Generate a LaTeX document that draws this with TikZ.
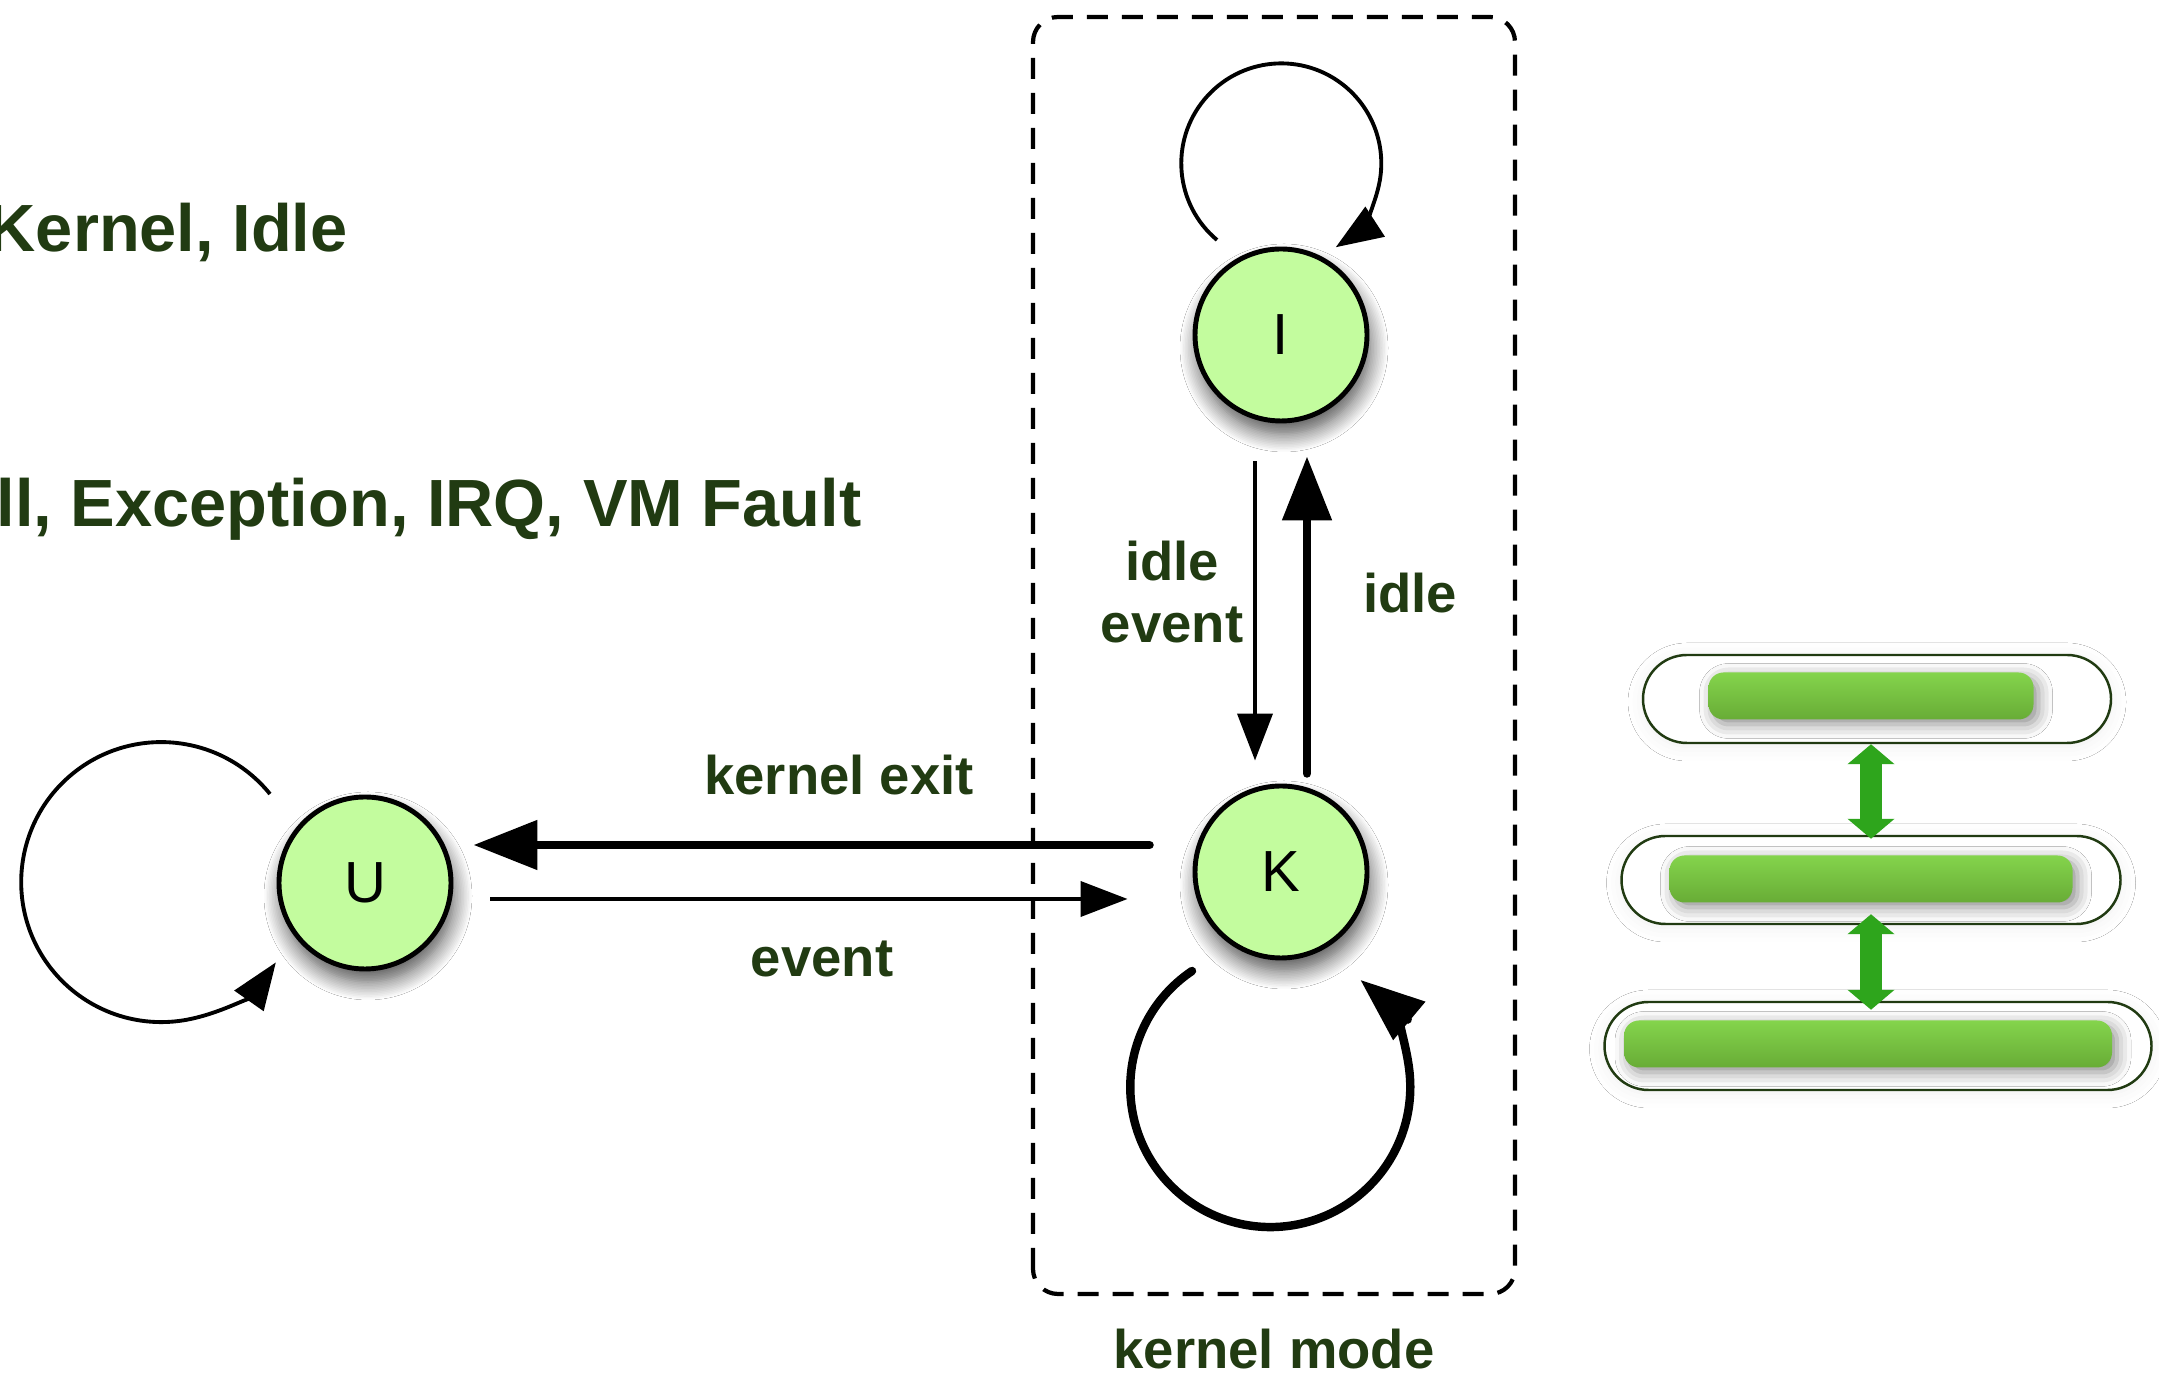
\documentclass[tikz,border=0pt]{standalone}
\usepackage{fontspec}
\setmainfont{Liberation Sans}
\usetikzlibrary{arrows.meta, calc, shadows.blur}
\definecolor{txtgreen}{RGB}{33,59,18}
\definecolor{statefill}{RGB}{195,252,158}
\definecolor{barlight}{RGB}{132,212,76}
\definecolor{bardark}{RGB}{104,172,54}
\definecolor{linkgreen}{RGB}{46,165,28}
\tikzset{ st/.style = { circle
                      , draw
                      , line width   = 1.4pt
                      , fill         = statefill
                      , inner sep    = 0pt
                      , minimum size = 1.72cm
                      , font         = \fontsize{16.5}{18}\selectfont
                      , blur shadow  = {shadow xshift=0.03cm, shadow yshift=-0.13cm,
                                        shadow blur radius=0.18cm, shadow blur steps=12,
                                        shadow opacity=70}
                      },
          lbl/.style = { text      = txtgreen
                       , font      = \fontsize{15.5}{17.9}\selectfont\bfseries
                       , inner sep = 0pt
                       , anchor    = base
                       },
          biglbl/.style = { lbl
                          , font   = \fontsize{19}{22}\selectfont\bfseries
                          , anchor = base west
                          },
          thinarr/.style  = { line width = 1.1pt
                            , -{Triangle[length=0.47cm, width=0.35cm]}
                            },
          thickarr/.style = { line width = 2.4pt
                            , line cap   = round
                            , -{Triangle[length=0.64cm, width=0.48cm]}
                            },
          modebox/.style  = { line width      = 1.2pt
                            , dash pattern    = on 0.21cm off 0.14cm
                            , rounded corners = 0.25cm
                            },
          capsule/.style  = { draw            = txtgreen
                            , fill            = white
                            , line width      = 0.7pt
                            , rounded corners = 0.44cm
                            , minimum height  = 0.88cm
                            , inner sep       = 0pt
                            , blur shadow     = {shadow xshift=0cm, shadow yshift=-0.03cm,
                                                 shadow blur radius=0.15cm, shadow opacity=6}
                            },
          bar/.style      = { rounded corners = 0.15cm
                            , minimum height  = 0.47cm
                            , inner sep       = 0pt
                            , top color       = barlight
                            , bottom color    = bardark
                            , blur shadow     = {shadow xshift=0.05cm, shadow yshift=-0.05cm,
                                                 shadow blur radius=0.14cm, shadow opacity=45}
                            },
          link/.style     = { draw       = linkgreen
                            , line width = 0.22cm
                            , {Triangle[length=0.2cm, width=0.46cm]}-{Triangle[length=0.2cm, width=0.46cm]}
                            }
        }
\begin{document}
\begin{tikzpicture}
    \fill[white] (0,0) rectangle (21.59,13.77);
    \useasboundingbox (0,0) rectangle (21.59,13.77);
    % kernel mode frame
    \draw[modebox] (10.33,0.83) rectangle (15.15,13.60);
    \node[lbl] (lmode) at (12.74,0.08) {kernel mode};
    % states
    \node[st] (I) at (12.81,10.42) {I};
    \node[st] (K) at (12.81,5.05)  {K};
    \node[st] (U) at (3.65,4.94)   {U};
    % self loops
    \draw[thinarr]  ([shift={(-0.64,0.95)}]I.center) arc[start angle=230, end angle=-57, radius=1cm];
    \draw[thickarr] ([shift={(-0.89,-0.99)}]K.center) arc[start angle=124, end angle=410, radius=1.4cm];
    \draw[thinarr]  ([shift={(-0.95,0.89)}]U.center) arc[start angle=39, end angle=325, radius=1.4cm];
    % transitions
    \draw[thickarr] ([shift={(-0.43,0.27)}]K.west) -- ([shift={(0.20,0.38)}]U.east);
    \draw[thinarr]  ([shift={(0.37,-0.16)}]U.east) -- ([shift={(-0.65,-0.27)}]K.west);
    \draw[thinarr]  ([shift={(-0.26,-0.38)}]I.south) -- ([shift={(-0.26,0.23)}]K.north);
    \draw[thickarr] ([shift={(0.26,0.10)}]K.north) -- ([shift={(0.26,-0.33)}]I.south);
    \node[lbl] (lexit)  at (8.39,5.82) {kernel exit};
    \node[lbl] (levent) at (8.22,4.00) {event};
    \node[lbl, align=center, anchor=center] (lidleev) at (11.72,7.85) {idle\\event};
    \node[lbl] (lidle)  at (14.10,7.64) {idle};
    % entry texts
    \node[biglbl] (lmodes) at (-0.13,11.25) {Kernel, Idle};
    \node[biglbl] (lentry) at (-0.04,8.50)  {ll, Exception, IRQ, VM Fault};
    % layer stack
    \node[capsule, minimum width=4.68cm] (cap1) at (18.77,6.78) {};
    \node[capsule, minimum width=4.99cm] (cap2) at (18.71,4.97) {};
    \node[capsule, minimum width=5.47cm] (cap3) at (18.78,3.31) {};
    \node[bar, minimum width=3.25cm] (bar1) at (18.71,6.81) {};
    \node[bar, minimum width=4.03cm] (bar2) at (18.71,4.98) {};
    \node[bar, minimum width=4.88cm] (bar3) at (18.68,3.33) {};
    \draw[link] (cap1.south -| bar2) -- ($(cap2.north -| bar2)+(0,-0.04)$);
    \draw[link] ($(cap2.south -| bar2)+(0,0.11)$) -- ($(cap3.north -| bar2)+(0,-0.09)$);
\end{tikzpicture}
\end{document}
